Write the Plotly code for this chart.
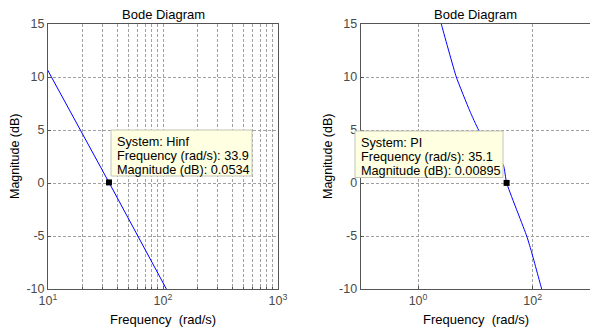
import plotly.graph_objects as go

# ---- data ----
hinf_freq = [9.0, 10.0, 33.9, 107.0, 115.0]
hinf_mag = [11.5, 10.6, 0.0534, -10.0, -10.6]

pi_freq = [2.2, 2.55, 4.65, 8.0, 11.4, 30.9, 35.1, 78.7, 93.8, 143.5, 155.0]
pi_mag = [16.5, 15.0, 10.0, 6.8, 5.0, 1.67, 0.00895, -5.0, -6.35, -10.0, -10.7]

hinf_tip = {"system": "Hinf", "freq": "33.9", "mag": "0.0534"}
pi_tip = {"system": "PI", "freq": "35.1", "mag": "0.00895"}

y_ticks = [-10, -5, 0, 5, 10, 15]
left_xmajor = [10, 100, 1000]
left_xmajor_text = ["10<sup>1</sup>", "10<sup>2</sup>", "10<sup>3</sup>"]
left_xminor = [20, 30, 40, 50, 60, 70, 80, 90, 200, 300, 400, 500, 600, 700, 800, 900]
right_xmajor = [1, 100]
right_xmajor_text = ["10<sup>0</sup>", "10<sup>2</sup>"]

W, H = 600, 329
L, R, T, B = 48, 0, 24, 40
pw = 542
ph = H - T - B

def px_x(px):
    return (px - L) / pw

def px_y(py):
    return (H - B - py) / ph

font = "Liberation Sans, Arial, sans-serif"
tick_col = "#4a4a4a"
axis_col = "#555555"
grid_col = "#a0a0a0"

fig = go.Figure()
fig.add_trace(go.Scatter(x=hinf_freq, y=hinf_mag, mode="lines",
                         line=dict(color="#0000ff", width=1), xaxis="x", yaxis="y",
                         showlegend=False, hoverinfo="skip"))
fig.add_trace(go.Scatter(x=pi_freq, y=pi_mag, mode="lines",
                         line=dict(color="#0000ff", width=1, shape="spline", smoothing=0.4),
                         xaxis="x2", yaxis="y2", showlegend=False, hoverinfo="skip"))

tickfont = dict(family=font, size=12.5, color=tick_col)
common_y = dict(range=[-10, 15], tickvals=y_ticks, ticktext=[str(v) for v in y_ticks],
                showgrid=True, gridcolor=grid_col, griddash="3px,2px", gridwidth=1,
                zeroline=False, showline=True, linecolor=axis_col, linewidth=1,
                ticks="inside", ticklen=3, tickcolor=axis_col, tickfont=tickfont)

common_x = dict(type="log", showgrid=True, gridcolor=grid_col, griddash="3px,2px",
                gridwidth=1, zeroline=False, showline=True, linecolor=axis_col,
                linewidth=1, mirror=True, ticks="inside", ticklen=3, tickcolor=axis_col,
                tickfont=tickfont)

left_dom = [0, px_x(278)]
right_dom = [px_x(360.7), 1.0]

fig.update_layout(
    width=W, height=H, margin=dict(l=L, r=R, t=T, b=B),
    paper_bgcolor="white", plot_bgcolor="white",
    xaxis=dict(common_x, domain=left_dom, range=[1, 3], tickmode="array",
               tickvals=left_xmajor, ticktext=left_xmajor_text, anchor="y",
               minor=dict(tickmode="array", tickvals=left_xminor, showgrid=True,
                          gridcolor=grid_col, griddash="3px,2px", gridwidth=1,
                          ticks="inside", ticklen=2, tickcolor=axis_col)),
    yaxis=dict(common_y, domain=[0, 1], mirror=True, anchor="x"),
    xaxis2=dict(common_x, domain=right_dom, range=[-1, 3], tickmode="array",
                tickvals=right_xmajor, ticktext=right_xmajor_text, anchor="y2"),
    yaxis2=dict(common_y, domain=[0, 1], mirror=False, anchor="x2"),
)

ann = []
shapes = []
for cx in [(48 + 278) / 2, (360.7 + 590.8) / 2]:
    ann.append(dict(text="Bode Diagram", x=px_x(cx), y=px_y(14), xref="paper", yref="paper",
                    showarrow=False, xanchor="center", yanchor="middle",
                    font=dict(family=font, size=13, color="black")))
    ann.append(dict(text="Frequency  (rad/s)", x=px_x(cx), y=px_y(319), xref="paper",
                    yref="paper", showarrow=False, xanchor="center", yanchor="middle",
                    font=dict(family=font, size=13, color="black")))
for cx in [15, 328]:
    ann.append(dict(text="Magnitude (dB)", x=px_x(cx), y=px_y(157), xref="paper",
                    yref="paper", showarrow=False, xanchor="center", yanchor="middle",
                    textangle=-90, font=dict(family=font, size=12.5, color="black")))

# data-tip boxes: (tip, box left, box top, box right, box bottom, text left, line centres)
tips = [
    (hinf_tip, 111, 130, 252, 176, 115, [141.5, 156, 170]),
    (pi_tip, 355, 131, 503, 177.5, 358.5, [143, 157, 171]),
]
for tip, x0, y0, x1, y1, tx, lines in tips:
    shapes.append(dict(type="rect", xref="paper", yref="paper",
                       x0=px_x(x0), x1=px_x(x1), y0=px_y(y1), y1=px_y(y0),
                       fillcolor="#ffffe1", line=dict(color="#c4c4b8", width=1),
                       layer="above"))
    texts = ["System: %s" % tip["system"],
             "Frequency (rad/s): %s" % tip["freq"],
             "Magnitude (dB): %s" % tip["mag"]]
    for t, ly in zip(texts, lines):
        ann.append(dict(text=t, x=px_x(tx), y=px_y(ly), xref="paper", yref="paper",
                        showarrow=False, xanchor="left", yanchor="middle", align="left",
                        font=dict(family=font, size=12.7, color="black")))

# markers drawn on top of the boxes
fig.add_trace(go.Scatter(x=[float(hinf_tip["freq"])], y=[float(hinf_tip["mag"])],
                         mode="markers", marker=dict(color="black", symbol="square", size=6),
                         xaxis="x", yaxis="y", showlegend=False, hoverinfo="skip",
                         cliponaxis=False))
fig.add_trace(go.Scatter(x=[float(pi_tip["freq"])], y=[float(pi_tip["mag"])],
                         mode="markers", marker=dict(color="black", symbol="square", size=6),
                         xaxis="x2", yaxis="y2", showlegend=False, hoverinfo="skip",
                         cliponaxis=False))

fig.update_layout(annotations=ann, shapes=shapes)
fig.write_html("out.html")
